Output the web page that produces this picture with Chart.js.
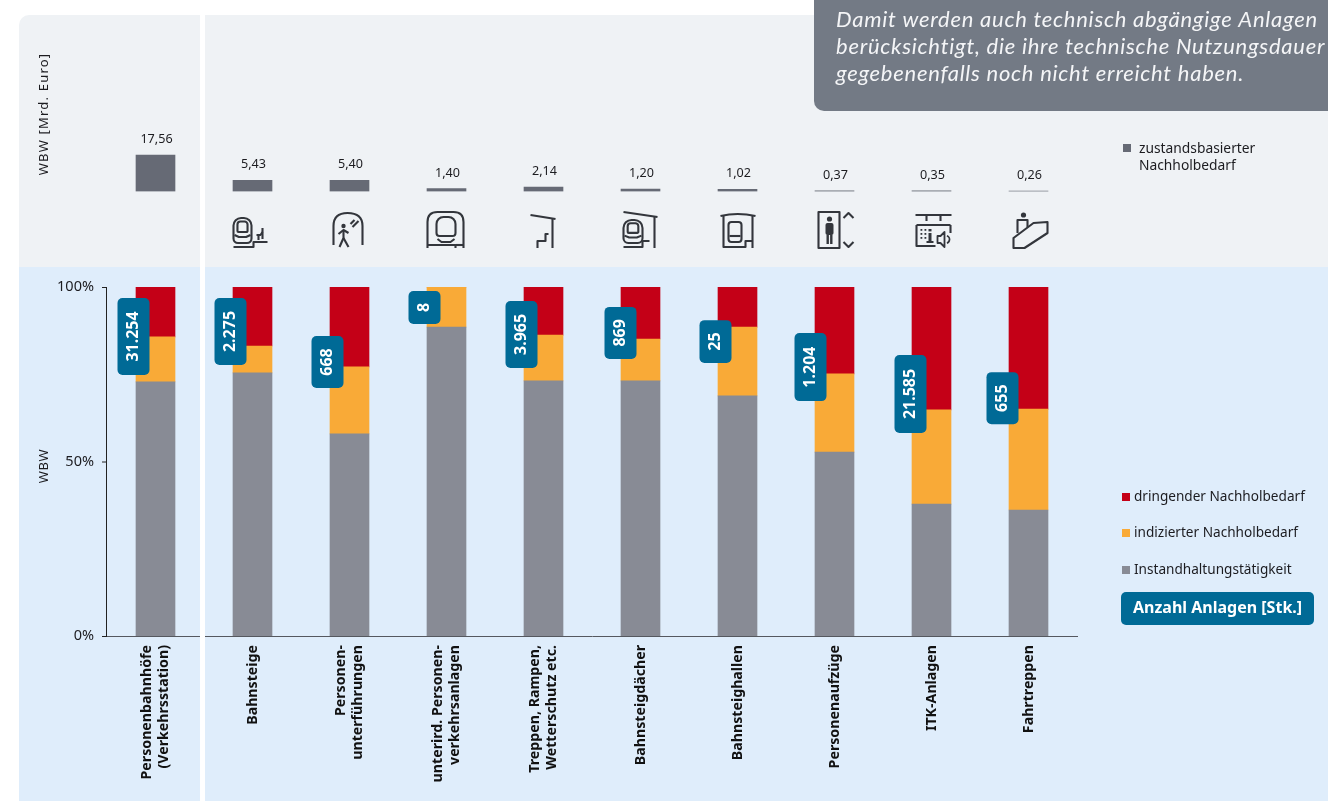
<!DOCTYPE html>
<html lang="de"><head><meta charset="utf-8">
<script src="https://cdn.jsdelivr.net/npm/chart.js@4"></script>
<style>
html,body{margin:0;padding:0;background:#fff;overflow:hidden;width:1328px;height:801px}
canvas{position:absolute;left:0;top:0}
</style></head><body>
<canvas id="lower" width="1328" height="801"></canvas>
<canvas id="upper" width="1328" height="801"></canvas>
<script>
const categories=[["Personenbahnhöfe","(Verkehrsstation)"],["Bahnsteige"],["Personen-","unterführungen"],["unterird. Personen-","verkehrsanlagen"],["Treppen, Rampen,","Wetterschutz etc."],["Bahnsteigdächer"],["Bahnsteighallen"],["Personenaufzüge"],["ITK-Anlagen"],["Fahrtreppen"]];
const wbwTotal=[17.56,5.43,5.40,1.40,2.14,1.20,1.02,0.37,0.35,0.26];
const instandhaltung=[72.8,75.4,57.9,88.5,73.1,73.1,68.8,52.7,37.8,36.1];
const indiziert=[12.9,7.7,19.2,11.5,13.1,12.0,19.7,22.4,27.0,28.9];
const dringend=[14.3,16.9,22.9,0,13.8,14.9,11.5,24.9,35.2,35.0];
const anlagen=["31.254","2.275","668","8","3.965","869","25","1.204","21.585","655"];
const percentTicks=[0,50,100];
const noteLines=["Damit werden auch technisch abgängige Anlagen","berücksichtigt, die ihre technische Nutzungsdauer","gegebenenfalls noch nicht erreicht haben."];
// badge annotation layout
const badgeSpans=[[96.85,74.8],[96.85,77.65],[85.96,71.06],[98.85,89.4],[96,76.8],[94.3,79.4],[90.5,78.2],[86.8,67.3],[80.5,58.2],[75.6,60.7]];
const badgeOffsets=[-22,-22,-22,-22,-22,-20,-22,-24,-21,-26];

const UI='"Noto Sans"';
const C={red:'#c40017',org:'#f9aa37',gry:'#888b95',top:'#666a75',blue:'#006a96',ink:'#1c1c20'};

function rr(c,x,y,w,h,r){c.beginPath();c.roundRect(x,y,w,h,r);}
function vtext(c,t,x,y,align){c.save();c.translate(x,y);c.rotate(-Math.PI/2);c.textAlign=align;c.textBaseline='middle';c.fillText(t,0,0);c.restore();}
function poly(c,pts,close){c.beginPath();pts.forEach((p,i)=>i?c.lineTo(p[0],p[1]):c.moveTo(p[0],p[1]));if(close)c.closePath();c.stroke();}

const background={id:'background',beforeDraw(ch){
  const c=ch.ctx;c.save();
  c.fillStyle='#eff2f5';rr(c,19,15,1309,300,[10,0,0,0]);c.fill();
  c.fillStyle='#dfedfb';c.fillRect(19,267,1309,534);
  c.fillStyle='#fff';c.fillRect(200,15,5,786);
  c.restore();
}};

const lowerOverlay={id:'lowerOverlay',afterDraw(ch){
  const c=ch.ctx,x=ch.scales.x,y=ch.scales.y;c.save();
  c.fillStyle='#fff';c.fillRect(200,630,5,12);
  c.fillStyle='#111';c.font='bold 14.2px '+UI;
  categories.forEach((l,i)=>{
    const cx=x.getPixelForValue(i),n=l.length;
    l.forEach((t,k)=>vtext(c,t,cx+(k-(n-1)/2)*17.5,645,'right'));
  });
  anlagen.forEach((t,i)=>{
    const cx=x.getPixelForValue(i)+badgeOffsets[i];
    const y0=y.getPixelForValue(badgeSpans[i][0]),y1=y.getPixelForValue(badgeSpans[i][1]);
    c.fillStyle=C.blue;rr(c,cx-16,y0,32,y1-y0,5);c.fill();
    c.fillStyle='#fff';c.font='bold 16px '+UI;
    vtext(c,t,cx,(y0+y1)/2,'center');
  });
  c.fillStyle=C.ink;c.font='13px '+UI;c.letterSpacing='0.6px';vtext(c,'WBW',44,466,'center');c.letterSpacing='0px';
  const leg=[[C.red,'dringender Nachholbedarf',497],[C.org,'indizierter Nachholbedarf',533],[C.gry,'Instandhaltungstätigkeit',570]];
  leg.forEach(([col,t,ly])=>{c.fillStyle=col;c.fillRect(1122,ly-4,8,8);
    c.fillStyle=C.ink;c.font='13.6px '+UI;c.textAlign='left';c.textBaseline='middle';c.fillText(t,1134,ly);});
  c.fillStyle=C.blue;rr(c,1121,592,193,33,5);c.fill();
  c.fillStyle='#fff';c.font='bold 16px '+UI;c.textAlign='left';c.textBaseline='middle';c.fillText('Anzahl Anlagen [Stk.]',1133,608);
  c.restore();
}};

new Chart(document.getElementById('lower'),{
  type:'bar',
  data:{labels:categories.map(l=>l.join(' ')),datasets:[
    {label:'Instandhaltungstätigkeit',data:instandhaltung,backgroundColor:C.gry},
    {label:'indizierter Nachholbedarf',data:indiziert,backgroundColor:C.org},
    {label:'dringender Nachholbedarf',data:dringend,backgroundColor:C.red}]},
  options:{responsive:false,animation:false,
    layout:{padding:{left:107,right:251,top:287,bottom:165}},
    datasets:{bar:{barThickness:39}},
    plugins:{legend:{display:false},tooltip:{enabled:false}},
    scales:{
      x:{stacked:true,grid:{display:false,drawTicks:false},border:{color:'#55585f',width:1},ticks:{display:false}},
      y:{stacked:true,min:0,max:100,position:'left',afterFit(s){s.width=0;},
        afterBuildTicks(s){s.ticks=percentTicks.map(v=>({value:v}));},
        grid:{display:false},border:{display:false},ticks:{display:false}}
    }},
  plugins:[background,{id:'yAxisDraw',afterDraw(ch){
    const c=ch.ctx,y=ch.scales.y,a=ch.chartArea;c.save();
    c.strokeStyle='#222';c.lineWidth=1;c.beginPath();
    c.moveTo(a.left-.5,y.getPixelForValue(100));c.lineTo(a.left-.5,y.getPixelForValue(0));c.stroke();
    c.fillStyle=C.ink;c.font='14.5px '+UI;c.textAlign='right';c.textBaseline='middle';
    percentTicks.forEach(v=>{const p=y.getPixelForValue(v);
      c.beginPath();c.moveTo(a.left-5,p+.5);c.lineTo(a.left,p+.5);c.stroke();
      c.fillText(v+'%',a.left-13,p);});
    c.restore();
  }},lowerOverlay]
});

function train(c,x,y,w,h){
  rr(c,x,y,w,h,[w*.42,w*.42,w*.25,w*.25]);c.stroke();
  rr(c,x+w*.22,y+h*.14,w*.56,h*.42,[3,3,1,1]);c.stroke();
  poly(c,[[x+1,y+h*.68],[x+w*.3,y+h*.76],[x+w*.7,y+h*.76],[x+w-1,y+h*.68]]);
}
const iconDraw=[
 c=>{train(c,-19,-14,18,25);poly(c,[[-19,15],[1,15],[1,10],[15,10]]);poly(c,[[10,-4],[10,7]]);poly(c,[[4,3],[8,3],[10,0]]);poly(c,[[6,3],[6,8]]);},
 c=>{poly(c,[[-15,12]]);c.beginPath();c.moveTo(-16,13);c.lineTo(-16,-6);c.quadraticCurveTo(-16,-19,-2,-19);c.quadraticCurveTo(13,-19,13,-6);c.lineTo(13,13);c.stroke();
   c.beginPath();c.arc(-6,-6,2.2,0,7);c.fill();
   poly(c,[[-6,-2],[-6,6],[-10,15]]);poly(c,[[-6,6],[-1,15]]);poly(c,[[-11,2],[-6,-2],[-1,1]]);poly(c,[[1,-8],[5,-12]]);poly(c,[[3,-5],[9,-11]]);},
 c=>{c.beginPath();c.moveTo(-19,16);c.lineTo(-19,-10);c.quadraticCurveTo(-19,-20,-9,-20);c.lineTo(7,-20);c.quadraticCurveTo(17,-20,17,-10);c.lineTo(17,16);c.stroke();
   rr(c,-10,-15,19,19,[7,7,3,3]);c.stroke();poly(c,[[-9,7],[-5,10],[4,10],[8,7]]);poly(c,[[-19,13],[9,13],[9,16]]);poly(c,[[9,13],[17,13]]);},
 c=>{poly(c,[[-13,-17],[12,-13]]);poly(c,[[9,-13],[9,16]]);poly(c,[[-6,16],[-6,9],[2,9],[2,2],[5,2]]);},
 c=>{poly(c,[[-17,-20],[17,-15]]);poly(c,[[14,-15],[14,16]]);train(c,-17,-12,19,23);poly(c,[[-17,15],[2,15],[2,9],[9,9]]);},
 c=>{c.beginPath();c.moveTo(-17,-16);c.quadraticCurveTo(0,-20,18,-16);c.stroke();poly(c,[[-14,-16],[-14,15],[8,15],[8,9],[15,9]]);poly(c,[[15,-16],[15,16]]);rr(c,-9,-10,13,20,3);c.stroke();poly(c,[[-8,4],[3,4]]);},
 c=>{c.strokeRect(-16,-20,21,36);c.beginPath();c.arc(-5,-13,2.6,0,7);c.fill();rr(c,-9,-9,8,12,2);c.fill();c.fillRect(-8,3,2.4,9);c.fillRect(-4.4,3,2.4,9);
   poly(c,[[9,-14],[14,-19],[19,-14]]);poly(c,[[9,10],[14,15],[19,10]]);},
 c=>{poly(c,[[-16,-17],[20,-17]]);poly(c,[[-5,-17],[-5,-11]]);poly(c,[[9,-17],[9,-11]]);poly(c,[[-15,-7],[19,-7]]);poly(c,[[19,-7],[19,1]]);poly(c,[[-15,-7],[-15,14],[4,14]]);
   c.lineWidth=1.8;[-11,-7].forEach(dx=>[-3,1,5].forEach(dy=>c.fillRect(dx,dy,1.8,1.8)));c.fillRect(-3,-3,3,2.4);c.fillRect(-3,1,3,9);c.fillRect(-5,9,7,2);
   poly(c,[[6,4],[9,4],[13,0],[13,15],[9,11],[6,11]],true);c.beginPath();c.arc(14,7.5,4,-1.2,1.2);c.stroke();},
 c=>{c.beginPath();c.arc(-5,-17,2.6,0,7);c.fill();poly(c,[[-11,1],[-11,-12],[-1,-12],[-1,-5]]);poly(c,[[-15,6],[5,-9],[19,-10],[19,1],[-4,16],[-15,16]],true);},
];

new Chart(document.getElementById('upper'),{
  type:'bar',
  data:{labels:categories.map(l=>l.join(' ')),datasets:[{label:'zustandsbasierter Nachholbedarf',data:wbwTotal,backgroundColor:C.top}]},
  options:{responsive:false,animation:false,
    layout:{padding:{left:107,right:251,top:100,bottom:609.5}},
    datasets:{bar:{barThickness:39}},
    plugins:{legend:{display:false},tooltip:{enabled:false}},
    scales:{
      x:{grid:{display:false,drawTicks:false},border:{display:false},ticks:{display:false}},
      y:{min:0,max:44,afterFit(s){s.width=0;},grid:{display:false,drawTicks:false},border:{display:false},ticks:{display:false}}
    }},
  plugins:[{id:'upperOverlay',afterDraw(ch){
    const c=ch.ctx,x=ch.scales.x,y=ch.scales.y;c.save();
    c.fillStyle=C.ink;c.font='12.6px '+UI;c.textAlign='center';c.textBaseline='alphabetic';
    wbwTotal.forEach((v,i)=>{
      const cx=x.getPixelForValue(i),top=y.getPixelForValue(v);
      c.fillText(v.toFixed(2).replace('.',','),cx+1,Math.min(top-12,180));
    });
    iconDraw.forEach((fn,j)=>{
      c.save();c.translate(x.getPixelForValue(j+1),232);
      c.strokeStyle='#33363c';c.fillStyle='#33363c';c.lineWidth=2.1;c.lineCap='butt';c.lineJoin='round';fn(c);c.restore();
    });
    c.fillStyle=C.ink;c.font='13px '+UI;c.letterSpacing='1.2px';vtext(c,'WBW [Mrd. Euro]',44,114,'center');c.letterSpacing='0px';
    c.fillStyle='#737a85';rr(c,814,-12,530,123,10);c.fill();
    c.fillStyle='#f4f5f7';c.font='italic 22px Lato';c.letterSpacing='0.75px';c.textAlign='left';c.textBaseline='alphabetic';
    noteLines.forEach((t,i)=>c.fillText(t,836,27+i*27));
    c.letterSpacing='0px';
    c.fillStyle=C.top;c.fillRect(1123,144,8,8);
    c.fillStyle=C.ink;c.font='13.8px '+UI;c.fillText('zustandsbasierter',1139,153);c.fillText('Nachholbedarf',1139,170);
    c.restore();
  }}]
});
</script></body></html>
